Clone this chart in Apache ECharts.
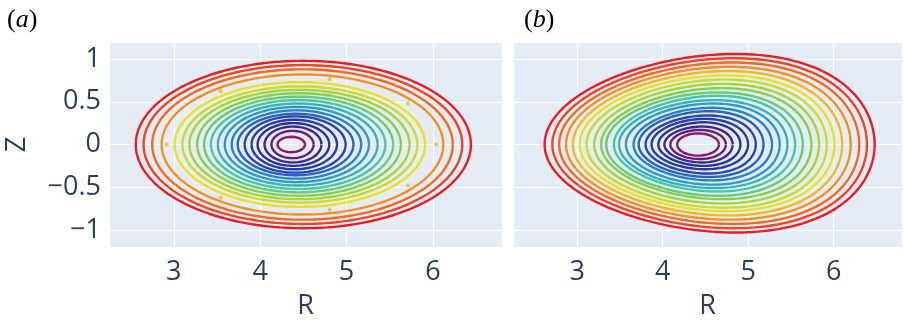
<!DOCTYPE html>
<html>
<head>
<meta charset="utf-8">
<script src="https://cdn.jsdelivr.net/npm/echarts@6/dist/echarts.min.js"></script>
<style>
  html, body { margin: 0; padding: 0; background: #fff; }
  #main { width: 905px; height: 325px; }
</style>
</head>
<body>
<div id="main"></div>
<script>
var myChart = echarts.init(document.getElementById('main'));

// contour levels, outer -> inner (normalised flux value)
var levels = [1, 0.95, 0.9, 0.85, 0.8, 0.75, 0.7, 0.65, 0.6, 0.55, 0.5, 0.45, 0.4, 0.35, 0.3, 0.25, 0.2, 0.15, 0.1, 0.05, 0];

// panel (a): crossing of each contour with Z=0 and its half height
var aLeft   = [2.56, 2.65, 2.75, 2.86, 2.92, 3.01, 3.10, 3.18, 3.27, 3.35, 3.43, 3.51, 3.59, 3.67, 3.74, 3.82, 3.90, 3.97, 4.05, 4.13, 4.20];
var aRight  = [6.44, 6.34, 6.23, 6.12, 6.04, 5.91, 5.82, 5.73, 5.63, 5.54, 5.45, 5.36, 5.26, 5.17, 5.08, 4.99, 4.89, 4.80, 4.71, 4.62, 4.52];
var aHalfZ  = [0.98, 0.93, 0.88, 0.82, 0.78, 0.73, 0.68, 0.64, 0.60, 0.56, 0.52, 0.48, 0.44, 0.40, 0.36, 0.33, 0.29, 0.25, 0.21, 0.16, 0.09];
// the 5th contour of (a) only shows as a few dots (angles in degrees)
var aDotted = 4;
var aDotAngles = [0, 38, 78, 127, 180, 233, 282, 322];

// panel (b): Z=0 crossings, top / bottom extent, shift of the top point in R
var bLeft   = [2.62, 2.71, 2.79, 2.87, 2.95, 3.03, 3.11, 3.20, 3.28, 3.34, 3.43, 3.49, 3.57, 3.66, 3.72, 3.80, 3.87, 3.95, 4.02, 4.09, 4.17];
var bRight  = [6.48, 6.39, 6.30, 6.20, 6.10, 6.01, 5.92, 5.83, 5.74, 5.64, 5.55, 5.46, 5.37, 5.28, 5.18, 5.09, 5.00, 4.91, 4.82, 4.74, 4.66];
var bTop    = [1.06, 1.01, 0.96, 0.91, 0.86, 0.81, 0.76, 0.71, 0.66, 0.61, 0.57, 0.52, 0.48, 0.43, 0.39, 0.34, 0.30, 0.26, 0.21, 0.17, 0.13];
var bBottom = [-1.03, -0.98, -0.93, -0.88, -0.83, -0.78, -0.74, -0.69, -0.64, -0.60, -0.55, -0.51, -0.47, -0.42, -0.38, -0.34, -0.29, -0.25, -0.21, -0.17, -0.13];
var bShift  = [0.30, 0.28, 0.27, 0.25, 0.24, 0.22, 0.21, 0.19, 0.18, 0.16, 0.15, 0.13, 0.12, 0.10, 0.09, 0.08, 0.06, 0.05, 0.04, 0.02, 0.0];

var rTicks = [3, 4, 5, 6];
var zTicks = [-1, -0.5, 0, 0.5, 1];

// plotly "Rainbow" like scale, a bit muted as in the figure
var scale = [
  [0, [140, 25, 95]], [0.125, [40, 45, 150]], [0.25, [40, 70, 175]],
  [0.375, [35, 145, 215]], [0.5, [70, 200, 160]], [0.625, [150, 210, 55]],
  [0.75, [235, 225, 35]], [0.875, [245, 125, 30]], [1, [232, 30, 35]]
];
function colorOf(t) {
  for (var i = 1; i < scale.length; i++) {
    if (t <= scale[i][0]) {
      var a = scale[i - 1], b = scale[i];
      var f = (t - a[0]) / (b[0] - a[0]);
      var c = a[1].map(function (v, k) { return Math.round(v + (b[1][k] - v) * f); });
      return 'rgb(' + c.join(',') + ')';
    }
  }
  return 'rgb(' + scale[scale.length - 1][1].join(',') + ')';
}

function ring(left, right, top, bottom, shift, t) {
  var rc = (left + right) / 2, a = (right - left) / 2;
  var d = Math.asin(shift / a);
  var r = rc + a * Math.cos(t - d * Math.sin(t));
  var s = Math.sin(t);
  return [r, s >= 0 ? top * s : -bottom * s];
}
function ringPoints(left, right, top, bottom, shift) {
  var pts = [];
  for (var i = 0; i <= 180; i++) {
    pts.push(ring(left, right, top, bottom, shift, i / 180 * 2 * Math.PI));
  }
  return pts;
}

var series = [];
levels.forEach(function (lv, k) {
  var col = colorOf(lv);
  if (k === aDotted) {
    series.push({
      type: 'scatter', xAxisIndex: 0, yAxisIndex: 0, silent: true,
      symbol: 'circle', symbolSize: 4,
      itemStyle: { color: col },
      data: aDotAngles.map(function (g) {
        return ring(aLeft[k], aRight[k], aHalfZ[k], -aHalfZ[k], 0, g / 180 * Math.PI);
      })
    });
  } else {
    series.push({
      type: 'line', xAxisIndex: 0, yAxisIndex: 0, silent: true, showSymbol: false,
      lineStyle: { color: col, width: 2.4 },
      data: ringPoints(aLeft[k], aRight[k], aHalfZ[k], -aHalfZ[k], 0)
    });
  }
  series.push({
    type: 'line', xAxisIndex: 1, yAxisIndex: 1, silent: true, showSymbol: false,
    lineStyle: { color: col, width: 2.4 },
    data: ringPoints(bLeft[k], bRight[k], bTop[k], bBottom[k], bShift[k])
  });
});

var tickFont = { fontFamily: 'Open Sans', fontSize: 27, color: '#2a3f5f' };

function xAx(i) {
  return {
    type: 'value', gridIndex: i, min: 2.25, max: 6.8, splitNumber: 5,
    name: 'R', nameLocation: 'middle', nameGap: 46,
    nameTextStyle: tickFont,
    axisLine: { show: false }, axisTick: { show: false },
    axisLabel: Object.assign({
      margin: 12,
      formatter: function (v) { return rTicks.indexOf(v) >= 0 ? String(v) : ''; }
    }, tickFont),
    splitLine: { lineStyle: { color: '#fff', width: 1 } }
  };
}
function yAx(i) {
  return {
    type: 'value', gridIndex: i, min: -1.2, max: 1.2, splitNumber: 5,
    name: i === 0 ? 'Z' : '', nameLocation: 'middle', nameGap: 78, nameRotate: 90,
    nameTextStyle: tickFont,
    axisLine: { show: false }, axisTick: { show: false },
    axisLabel: Object.assign({
      show: i === 0, margin: 8,
      formatter: function (v) { return zTicks.indexOf(v) >= 0 ? String(v).replace('-', '\u2212') : ''; }
    }, tickFont),
    splitLine: { lineStyle: { color: '#fff', width: 1 } }
  };
}

var panelLabel = {
  p: { fontFamily: 'Liberation Serif', fontSize: 26, fill: '#000' },
  i: { fontFamily: 'Liberation Serif', fontStyle: 'italic', fontSize: 26, fill: '#000' }
};

var option = {
  backgroundColor: '#fff',
  animation: false,
  grid: [
    { left: 109, top: 42, width: 393, height: 208, show: true, backgroundColor: '#e5ecf6', borderWidth: 0 },
    { left: 513, top: 42, width: 396, height: 208, show: true, backgroundColor: '#e5ecf6', borderWidth: 0 }
  ],
  xAxis: [xAx(0), xAx(1)],
  yAxis: [yAx(0), yAx(1)],
  graphic: [
    { type: 'text', left: 7, top: 7, style: { text: '{p|(}{i|a}{p|)}', rich: panelLabel } },
    { type: 'text', left: 524, top: 7, style: { text: '{p|(}{i|b}{p|)}', rich: panelLabel } }
  ],
  series: series
};

myChart.setOption(option);
</script>
</body>
</html>
